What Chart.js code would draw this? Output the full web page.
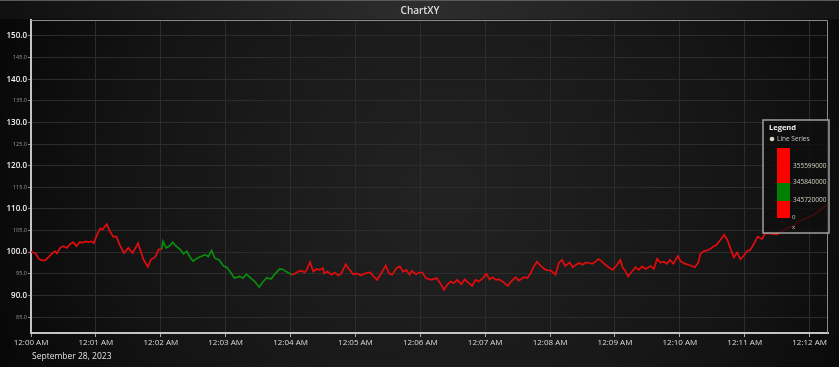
<!DOCTYPE html>
<html>
<head>
<meta charset="utf-8">
<title>ChartXY</title>
<script src="https://cdn.jsdelivr.net/npm/chart.js@4.4.0/dist/chart.umd.min.js"></script>
<style>
    html, body { margin: 0; padding: 0; background: #000; }
    #wrap { width: 839px; height: 367px; }
</style>
</head>
<body>
<div id="wrap"><canvas id="chart" width="839" height="367"></canvas></div>
<script>
// seconds after 12:00 AM
const seconds = [
    0, 4, 7, 10, 13, 16, 19, 22, 24, 27, 30, 33, 36, 39, 42, 45, 48, 51, 53, 56, 58,
    61, 64, 66, 70, 73, 76, 79, 82, 86, 90, 94, 99, 104, 108, 111, 115, 118,
    121, 122, 125, 128, 131, 133, 138, 141, 144, 147, 150, 153, 156, 161, 164, 167, 170, 174, 178,
    181, 184, 188, 193, 196, 199, 204, 207, 211, 214, 218, 222, 225, 230, 233, 236,
    241, 244, 247, 250, 253, 255, 258, 261, 264, 267, 270, 271, 274, 278, 281, 284, 287, 291, 294, 298,
    301, 305, 309, 314, 316, 320, 324, 328, 331, 334, 338, 341, 344, 347, 350, 352, 356, 359,
    362, 365, 370, 375, 378, 382, 385, 388, 391, 394, 398, 401, 404, 408, 411, 414, 418,
    421, 424, 427, 430, 433, 436, 441, 444, 448, 451, 456, 459, 462, 465, 468, 471, 476,
    481, 485, 488, 491, 494, 498, 501, 504, 507, 510, 513, 516, 519, 522, 525, 528, 531, 534, 538,
    541, 545, 547, 550, 552, 555, 559, 562, 565, 568, 573, 576, 579, 582, 585, 588, 591, 594, 598,
    601, 605, 608, 611, 614, 617, 619, 622, 625, 628, 631, 634, 638, 641, 644, 647, 650, 653, 656, 659,
    662, 665, 668, 672, 676, 679, 685, 690, 694, 701, 705, 710, 714, 719, 724, 728, 733, 736
];

const values = [
    100.0, 99.8, 98.5, 98.1, 98.1, 98.8, 99.6, 100.2, 99.7, 101.0, 101.4, 101.0, 101.8, 102.3, 101.4, 102.3, 102.2, 102.5, 102.3, 102.5, 102.1,
    104.0, 105.5, 105.2, 106.5, 104.8, 103.6, 103.6, 101.7, 99.8, 101.0, 99.8, 102.1, 98.3, 96.6, 98.3, 98.9, 100.6,
    100.7, 102.5, 101.0, 101.4, 102.3, 101.7, 100.6, 99.6, 100.2, 98.9, 97.9, 98.5, 98.9, 99.4, 99.0, 100.4, 98.6, 98.2, 96.8,
    96.5, 95.5, 94.0, 94.4, 94.0, 94.9, 93.8, 93.2, 91.9, 93.0, 94.1, 93.8, 94.8, 96.1, 96.0, 95.5,
    94.8, 95.0, 95.5, 95.7, 95.3, 95.9, 97.7, 95.5, 96.1, 95.9, 96.3, 95.1, 95.5, 94.8, 95.3, 94.6, 95.1, 97.2, 96.1, 94.9,
    95.1, 94.6, 95.1, 95.3, 94.6, 93.6, 95.1, 96.9, 95.1, 94.8, 96.3, 96.7, 95.5, 95.9, 94.8, 95.7, 94.9, 95.3,
    95.3, 94.0, 93.6, 94.0, 93.0, 91.3, 92.5, 93.2, 92.8, 93.6, 92.6, 93.7, 93.0, 92.2, 93.6, 93.2, 94.0,
    95.0, 93.7, 94.2, 93.6, 93.7, 93.2, 92.2, 93.2, 94.2, 93.4, 94.2, 94.0, 95.1, 96.7, 97.8, 96.9, 95.9,
    95.7, 94.8, 97.5, 98.2, 96.8, 97.6, 96.5, 97.1, 97.5, 97.1, 97.6, 97.5, 97.3, 97.8, 98.4, 97.8, 97.1, 96.5, 95.9,
    96.8, 98.2, 96.5, 95.5, 94.4, 95.3, 96.5, 95.9, 96.7, 96.1, 96.8, 96.1, 98.5, 97.6, 97.8, 97.3, 98.2, 97.3, 99.1,
    97.8, 97.3, 97.1, 96.8, 96.5, 97.6, 99.6, 100.2, 100.4, 100.7, 101.3, 101.7, 103.0, 104.0, 102.8, 100.7, 98.8, 99.9, 98.4, 99.1,
    100.2, 100.5, 101.7, 103.6, 103.0, 104.4, 104.3, 104.1, 104.8, 105.8, 106.1, 107.1, 107.5, 108.1, 108.6, 109.4, 110.4, 110.9
];

const xTicks = [0, 60, 120, 180, 240, 300, 360, 420, 480, 540, 600, 660, 720];
const yTicks = [85, 90, 95, 100, 105, 110, 115, 120, 125, 130, 135, 140, 145, 150];

// green part of the line (seconds)
const greenFrom = 120;
const greenTo = 240;

const titleText = 'ChartXY';
const dateText = 'September 28, 2023';
const legendTitle = 'Legend';
const seriesName = 'Line Series';
const legendLabels = ['355599000', '345840000', '345720000', '0', 'x'];

const RED = '#e30c0c';
const GREEN = '#0c8c0c';
const FONT = "'Segoe UI', 'Open Sans', 'Noto Sans', sans-serif";

function timeLabel(sec) {
    const m = Math.round(sec / 60);
    return '12:' + String(m).padStart(2, '0') + ' AM';
}

function isMajor(c) {
    return !c.tick || c.tick.value % 10 === 0;
}

// fond, bandeau du titre, date
const backgroundPlugin = {
    id: 'background',
    beforeDraw(chart) {
        const ctx = chart.ctx;
        const w = chart.width, h = chart.height;
        ctx.save();
        const g = ctx.createRadialGradient(440, 190, 10, 440, 190, 520);
        g.addColorStop(0, '#222222');
        g.addColorStop(0.6, '#141414');
        g.addColorStop(1, '#030303');
        ctx.fillStyle = g;
        ctx.fillRect(0, 0, w, h);

        const t = ctx.createLinearGradient(0, 0, w, 0);
        t.addColorStop(0, '#101010');
        t.addColorStop(0.5, '#2d2d2d');
        t.addColorStop(1, '#151515');
        ctx.fillStyle = t;
        ctx.fillRect(0, 0, w, 19);
        ctx.fillStyle = '#5a5a5a';
        ctx.fillRect(0, 0, w, 1);

        ctx.fillStyle = '#dcdcdc';
        ctx.font = '600 10px ' + FONT;
        ctx.textAlign = 'center';
        ctx.textBaseline = 'middle';
        ctx.fillText(titleText, 420, 11);

        ctx.font = '8.5px ' + FONT;
        ctx.textAlign = 'left';
        ctx.fillStyle = '#e0e0e0';
        ctx.fillText(dateText, 32, 357);
        ctx.restore();
    }
};

// bordure haut/droite + légende
const overlayPlugin = {
    id: 'overlay',
    afterDraw(chart) {
        const ctx = chart.ctx;
        const a = chart.chartArea;
        ctx.save();
        ctx.strokeStyle = '#8a8a8a';
        ctx.lineWidth = 1;
        ctx.beginPath();
        ctx.moveTo(a.left, a.top + 0.5);
        ctx.lineTo(a.right - 0.5, a.top + 0.5);
        ctx.lineTo(a.right - 0.5, a.bottom);
        ctx.stroke();

        // legend box
        const bx = 763, by = 120, bw = 66, bh = 113;
        ctx.fillStyle = 'rgba(14, 14, 14, 0.78)';
        ctx.fillRect(bx, by, bw, bh);
        ctx.strokeStyle = '#a0a0a0';
        ctx.lineWidth = 1.5;
        ctx.strokeRect(bx, by, bw, bh);

        ctx.textBaseline = 'middle';
        ctx.textAlign = 'left';
        ctx.fillStyle = '#eeeeee';
        ctx.font = 'bold 7.5px ' + FONT;
        ctx.fillText(legendTitle, 769, 128);

        ctx.fillStyle = '#d8d8c8';
        ctx.beginPath();
        ctx.arc(772, 139, 2.3, 0, Math.PI * 2);
        ctx.fill();
        ctx.fillStyle = '#c8c8c8';
        ctx.font = '6.5px ' + FONT;
        ctx.fillText(seriesName, 777, 139);

        ctx.fillStyle = '#ff0000';
        ctx.fillRect(777, 148, 13, 70);
        ctx.fillStyle = '#008000';
        ctx.fillRect(777, 183, 13, 18);

        ctx.fillStyle = '#d0d0c0';
        ctx.font = '6.5px ' + FONT;
        ctx.fillText(legendLabels[0], 793, 166);
        ctx.fillText(legendLabels[1], 793, 182);
        ctx.fillText(legendLabels[2], 793, 200);
        ctx.font = '6px ' + FONT;
        ctx.fillText(legendLabels[3], 792, 217);
        ctx.fillText(legendLabels[4], 792, 227);
        ctx.restore();
    }
};

const points = seconds.map((s, i) => ({ x: s, y: values[i] }));

new Chart(document.getElementById('chart'), {
    type: 'line',
    data: {
        datasets: [{
            label: seriesName,
            data: points,
            borderColor: RED,
            borderWidth: 1.7,
            pointRadius: 0,
            tension: 0,
            segment: {
                borderColor: c => (c.p0.parsed.x >= greenFrom && c.p0.parsed.x < greenTo) ? GREEN : RED
            }
        }]
    },
    options: {
        responsive: false,
        animation: false,
        events: [],
        layout: { padding: { top: 20, right: 11, left: 0, bottom: 0 } },
        plugins: {
            legend: { display: false },
            title: { display: false },
            tooltip: { enabled: false }
        },
        scales: {
            x: {
                type: 'linear',
                min: 0,
                max: 737,
                afterBuildTicks: s => { s.ticks = xTicks.map(v => ({ value: v })); },
                afterFit: s => { s.height = 34; s.paddingLeft = 0; s.paddingRight = 0; },
                border: { color: '#c4c4c4', width: 2 },
                grid: { color: '#2c2c2c', lineWidth: 1, tickLength: 4, tickColor: '#a8a8a8' },
                ticks: {
                    color: '#dcdcdc',
                    font: { family: FONT, size: 8 },
                    padding: 1,
                    maxRotation: 0,
                    autoSkip: false,
                    callback: v => timeLabel(v)
                }
            },
            y: {
                type: 'linear',
                min: 81.3,
                max: 153.7,
                afterBuildTicks: s => { s.ticks = yTicks.map(v => ({ value: v })); },
                afterFit: s => { s.width = 31; s.paddingTop = 0; s.paddingBottom = 0; },
                border: { color: '#c4c4c4', width: 2 },
                grid: { color: '#2c2c2c', lineWidth: 1, tickLength: 3, tickColor: '#8a8a8a' },
                ticks: {
                    autoSkip: false,
                    padding: 1,
                    color: c => isMajor(c) ? '#f2f2f2' : '#9a9a9a',
                    font: c => isMajor(c)
                        ? { family: FONT, size: 8, weight: '600' }
                        : { family: FONT, size: 5.5 },
                    callback: v => Number(v).toFixed(1)
                }
            }
        }
    },
    plugins: [backgroundPlugin, overlayPlugin]
});
</script>
</body>
</html>
